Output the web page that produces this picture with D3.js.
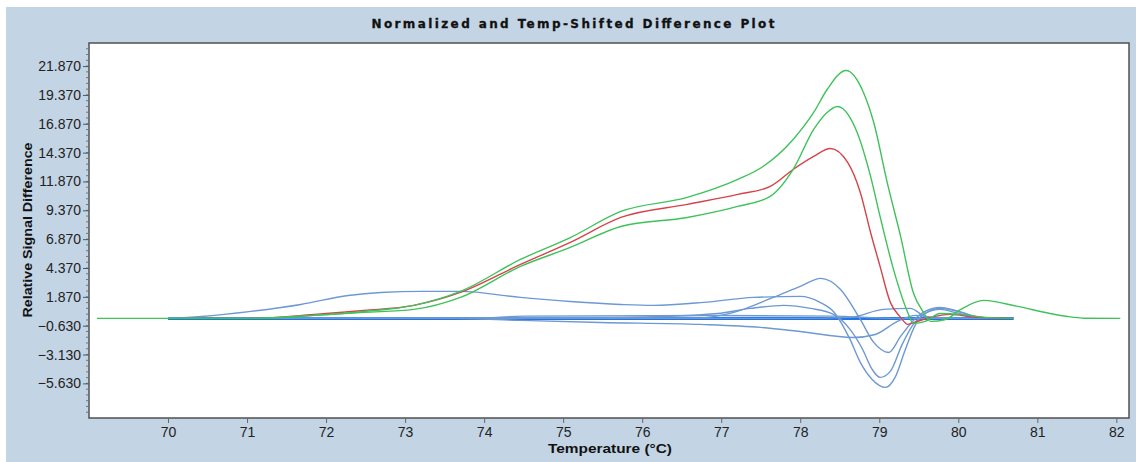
<!DOCTYPE html>
<html>
<head>
<meta charset="utf-8">
<script src="https://cdn.jsdelivr.net/npm/d3@7"></script>
<style>
  body { margin: 0; background: #fff; }
  svg { display: block; font-family: "Liberation Sans", Arial, sans-serif; }
</style>
</head>
<body>
<div id="chart"></div>
<script>
// tick labels
const xTicks = [70, 71, 72, 73, 74, 75, 76, 77, 78, 79, 80, 81, 82]
const yTicks = [-5.63, -3.13, -0.63, 1.87, 4.37, 6.87, 9.37, 11.87, 14.37, 16.87, 19.37, 21.87]

// series: [temperature, relative signal difference]
const greenHigh = [[69.1, 0], [71.05, 0], [71.85, 0.26], [72.48, 0.6], [73.11, 1.13], [73.7, 2.34],
  [74.46, 5.11], [75.09, 7.0], [75.73, 9.27], [76.57, 10.49], [77.21, 12.05], [77.53, 13.17],
  [77.91, 15.51], [78.17, 17.85], [78.34, 19.84], [78.58, 21.49], [78.8, 19.58], [78.93, 16.98],
  [79.1, 11.79], [79.27, 7.11], [79.43, 2.25], [79.56, 0.52], [79.65, -0.26], [79.84, -0.09],
  [80.03, 0.78], [80.32, 1.56], [80.75, 1.04], [81.16, 0.43], [81.38, 0.17], [81.6, 0.02], [82.05, 0]]

const greenLow = [[70.0, 0], [71.05, 0], [71.85, 0.26], [72.48, 0.52], [73.11, 0.78], [73.7, 1.82],
  [74.46, 4.51], [75.09, 6.15], [75.73, 7.97], [76.57, 8.75], [77.21, 9.71], [77.62, 10.57],
  [77.91, 12.91], [78.17, 16.38], [78.34, 17.85], [78.47, 18.37], [78.72, 16.12], [78.89, 12.31],
  [79.01, 8.84], [79.18, 4.25], [79.36, 0.52], [79.43, -0.43], [79.58, -0.26], [79.77, 0.43],
  [80.03, 0.35], [80.34, 0.09], [80.7, 0]]

const redCurve = [[70.13, 0], [71.05, 0], [71.85, 0.35], [72.48, 0.69], [73.11, 1.13], [73.7, 2.25],
  [74.46, 4.68], [75.09, 6.59], [75.73, 8.75], [76.57, 9.88], [77.21, 10.75], [77.62, 11.44],
  [77.91, 12.91], [78.17, 14.04], [78.38, 14.73], [78.6, 13.52], [78.76, 10.92], [78.89, 7.45],
  [79.01, 4.51], [79.14, 1.39], [79.27, 0.09], [79.36, -0.52], [79.48, -0.26], [79.65, 0.09],
  [79.9, 0.35], [80.21, 0.09], [80.7, 0]]

const blueBroad = [[70.0, 0], [70.42, 0.17], [71.05, 0.61], [71.68, 1.21], [72.28, 1.99], [72.69, 2.25],
  [73.2, 2.34], [73.7, 2.34], [74.46, 1.82], [75.09, 1.47], [75.73, 1.21], [76.14, 1.13],
  [76.78, 1.39], [77.41, 1.82], [78.0, 1.91], [78.25, 1.4], [78.42, 0.6], [78.63, -1.82],
  [78.76, -3.81], [78.91, -5.29], [79.08, -5.98], [79.2, -5.11], [79.33, -2.69], [79.46, -0.52],
  [79.58, 0.43], [79.77, 0.78], [79.96, 0.52], [80.21, 0.09], [80.53, 0]]

const bluePeak = [[70.0, 0], [76.74, 0.05], [77.16, 0.52], [77.66, 1.82], [78.0, 2.77], [78.26, 3.47],
  [78.51, 2.51], [78.76, -0.09], [78.93, -2.08], [79.12, -2.95], [79.27, -1.56], [79.42, -0.26],
  [79.58, 0.61], [79.77, 0.95], [79.96, 0.69], [80.21, 0.17], [80.53, 0]]

const blueSmall = [[70.0, 0], [75.73, 0.09], [76.95, 0.43], [77.37, 0.87], [77.79, 1.13], [78.13, 0.87],
  [78.42, 0.35], [78.63, -0.95], [78.79, -2.69], [78.91, -4.42], [79.01, -5.11], [79.14, -4.59],
  [79.29, -2.25], [79.43, -0.52], [79.58, 0.43], [79.77, 0.87], [80.0, 0.61], [80.28, 0.09], [80.53, 0]]

const blueDip = [[70.0, 0], [73.58, 0], [74.46, -0.17], [75.47, -0.35], [76.74, -0.52], [77.5, -0.78],
  [78.0, -1.13], [78.67, -1.65], [78.95, -1.39], [79.23, -0.26], [79.46, 0.26], [79.71, 0.09], [80.53, 0]]

const blueLate = [[70.0, 0], [78.0, 0], [78.63, 0.09], [79.05, 0.78], [79.39, 0.87], [79.61, 0.09],
  [80.03, 0], [80.7, 0]]

const blueFlatA = [[70.0, 0], [73.9, 0], [74.5, 0.2], [77.0, 0.25], [78.4, 0.2], [79.2, 0], [80.7, 0]]
const blueFlatB = [[70.0, 0], [80.7, 0]]

// layout
const W = 1136, H = 462
const plot = { left: 89, top: 43, right: 1129, bottom: 418 }

const svg = d3.select("#chart")
  .append("svg")
  .attr("width", W)
  .attr("height", H)

// panel background
svg.append("rect")
  .attr("x", 6).attr("y", 7)
  .attr("width", W - 6).attr("height", H - 7)
  .attr("fill", "#c3d4e5")

svg.append("rect")
  .attr("x", plot.left).attr("y", plot.top)
  .attr("width", plot.right - plot.left).attr("height", plot.bottom - plot.top)
  .attr("fill", "#fff")

const x = d3.scaleLinear().domain([69.0, 82.16]).range([plot.left, plot.right])
const y = d3.scaleLinear().domain([-8.63, 23.87]).range([plot.bottom, plot.top])

const line = d3.line()
  .x(d => x(d[0]))
  .y(d => y(d[1]))
  .curve(d3.curveMonotoneX)

const clip = svg.append("clipPath").attr("id", "clip")
clip.append("rect")
  .attr("x", plot.left).attr("y", plot.top)
  .attr("width", plot.right - plot.left).attr("height", plot.bottom - plot.top)

const lines = svg.append("g").attr("clip-path", "url(#clip)")

// bright blue baseline bundle
lines.append("path").datum(blueFlatB)
  .attr("d", line).attr("fill", "none")
  .attr("stroke", "#1f74e6").attr("stroke-width", 3)

const steel = [blueFlatA, blueDip, blueLate, blueBroad, blueSmall, bluePeak]
lines.selectAll(".blue")
  .data(steel)
  .enter()
  .append("path")
  .attr("class", "blue")
  .attr("d", line)
  .attr("fill", "none")
  .attr("stroke", "#6d99d2")
  .attr("stroke-width", 1.4)

lines.append("path").datum(redCurve)
  .attr("d", line).attr("fill", "none")
  .attr("stroke", "#d4444a").attr("stroke-width", 1.4)

lines.selectAll(".green")
  .data([greenLow, greenHigh])
  .enter()
  .append("path")
  .attr("class", "green")
  .attr("d", line)
  .attr("fill", "none")
  .attr("stroke", "#3fc25a")
  .attr("stroke-width", 1.4)

// frame
svg.append("rect")
  .attr("x", plot.left).attr("y", plot.top)
  .attr("width", plot.right - plot.left).attr("height", plot.bottom - plot.top)
  .attr("fill", "none")
  .attr("stroke", "#505050")
  .attr("stroke-width", 1.5)

// x axis
const xAxis = svg.append("g")
  .attr("transform", `translate(0, ${plot.bottom})`)
  .call(d3.axisBottom(x).tickValues(xTicks).tickSize(5).tickPadding(4).tickFormat(d3.format("d")))
xAxis.select(".domain").remove()
xAxis.selectAll("line").attr("stroke", "#666")
xAxis.selectAll("text")
  .attr("font-size", 14)
  .attr("fill", "#222")
  .attr("font-family", "Liberation Sans, Arial, sans-serif")

// y axis minor ticks
const minor = d3.range(-8.63 + 0.5, 23.87, 0.5)
svg.append("g")
  .selectAll("line")
  .data(minor)
  .enter()
  .append("line")
  .attr("x1", plot.left - 3).attr("x2", plot.left)
  .attr("y1", d => y(d)).attr("y2", d => y(d))
  .attr("stroke", "#777")
  .attr("stroke-width", 1)

const yAxis = svg.append("g")
  .attr("transform", `translate(${plot.left}, 0)`)
  .call(d3.axisLeft(y).tickValues(yTicks).tickSize(6).tickPadding(2).tickFormat(d3.format(".3f")))
yAxis.select(".domain").remove()
yAxis.selectAll("line").attr("stroke", "#555")
yAxis.selectAll("text")
  .attr("font-size", 14)
  .attr("fill", "#222")
  .attr("font-family", "Liberation Sans, Arial, sans-serif")

// title
svg.append("text")
  .attr("x", 573)
  .attr("y", 28)
  .attr("text-anchor", "middle")
  .attr("font-size", 12)
  .attr("font-weight", "bold")
  .attr("font-family", "DejaVu Sans, sans-serif")
  .attr("textLength", 403)
  .attr("lengthAdjust", "spacing")
  .attr("fill", "#111")
  .attr("stroke", "#111")
  .attr("stroke-width", 0.3)
  .text("Normalized and Temp-Shifted Difference Plot")

// axis labels
svg.append("text")
  .attr("x", 610)
  .attr("y", 453)
  .attr("text-anchor", "middle")
  .attr("font-size", 13)
  .attr("font-weight", "bold")
  .attr("textLength", 124)
  .attr("lengthAdjust", "spacingAndGlyphs")
  .attr("fill", "#111")
  .text("Temperature (°C)")

svg.append("text")
  .attr("x", -230)
  .attr("y", 32)
  .attr("transform", "rotate(-90)")
  .attr("text-anchor", "middle")
  .attr("font-size", 12)
  .attr("font-weight", "bold")
  .attr("textLength", 175)
  .attr("lengthAdjust", "spacingAndGlyphs")
  .attr("fill", "#111")
  .text("Relative Signal Difference")
</script>
</body>
</html>
